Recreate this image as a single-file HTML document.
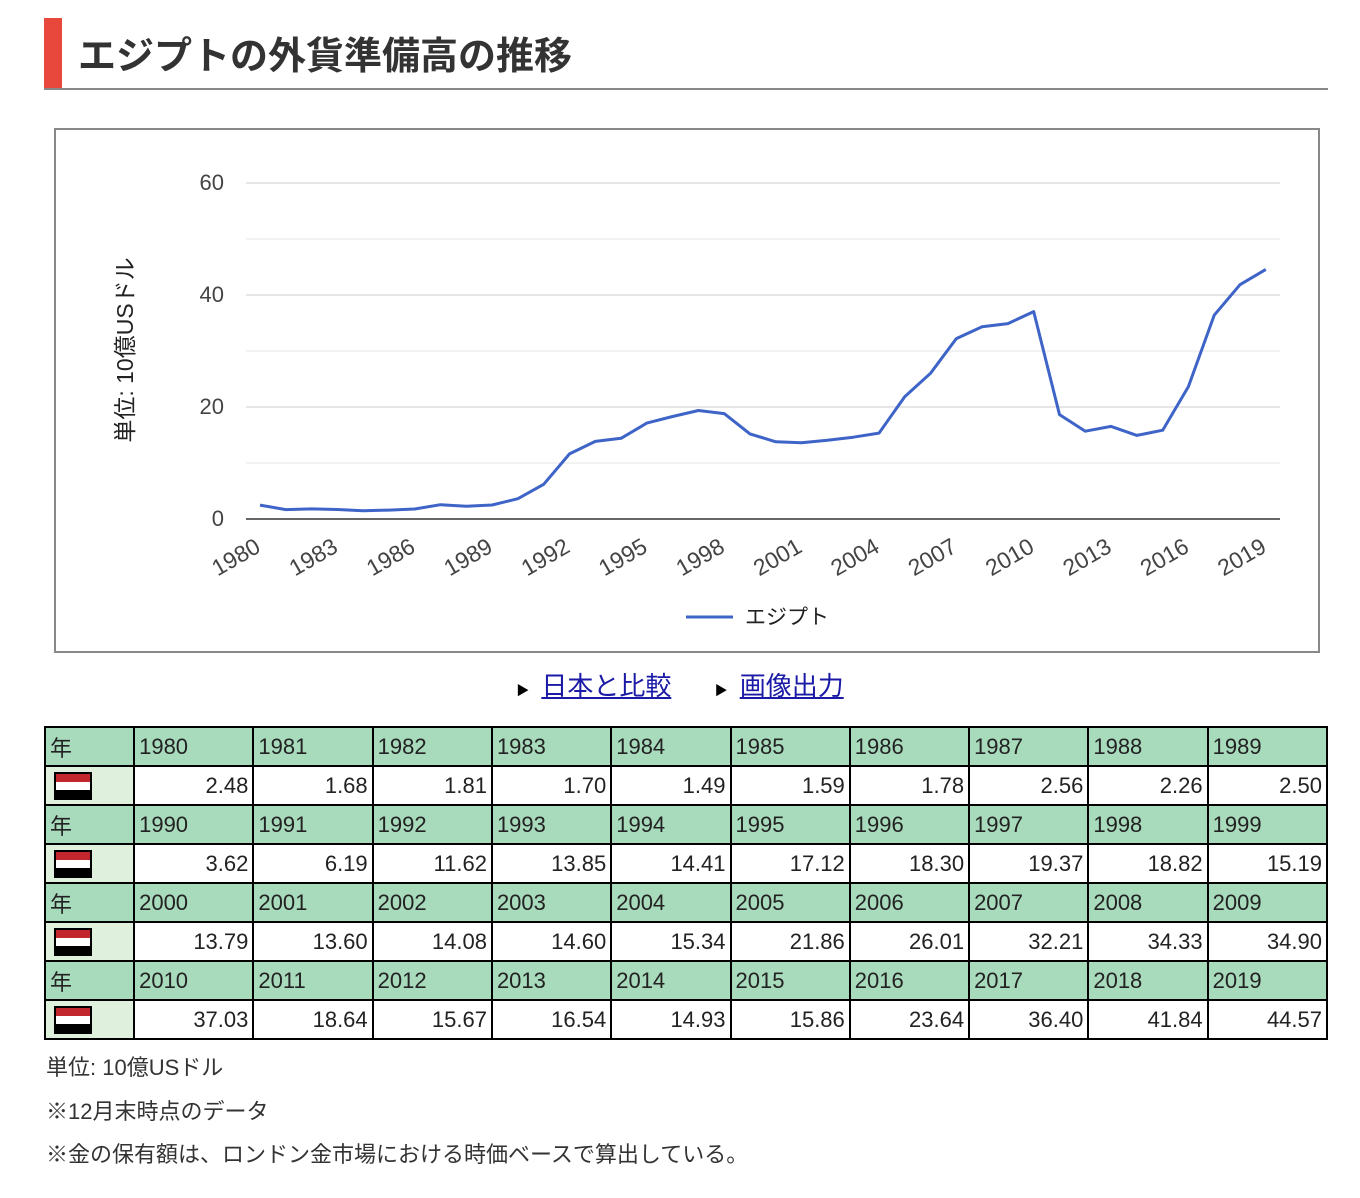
<!DOCTYPE html>
<html><head><meta charset="utf-8"><style>
body{margin:0;background:#fff;width:1360px;height:1198px;position:relative;font-family:"Liberation Sans","Noto Sans CJK JP",sans-serif;color:#222}
.t{position:absolute;left:44px;top:18px;width:1284px;height:70px;border-bottom:2px solid #888}
.t .bar{position:absolute;left:0;top:0;width:18px;height:70px;background:#e8473c}
.t h1{position:absolute;left:34px;top:4px;margin:0;font-size:38px;line-height:70px;font-weight:bold;color:#333}
.box{position:absolute;left:54px;top:128px;width:1262px;height:521px;border:2px solid #888;box-sizing:content-box}
.links{position:absolute;top:670px;left:0;width:1360px;text-align:center;font-size:26px}
.links a{color:#1a1aa6;text-decoration:underline}
.links span{font-size:13px;margin-right:12px;color:#000}
table{position:absolute;left:44px;top:726px;border-collapse:collapse;width:1284px;font-size:22px}
td{border:2px solid #000;padding:0 4px;height:37px;width:115px}
td:first-child{width:83px}
tr.h td{background:#a8dabc;height:37px;text-align:left}
tr.d td{text-align:right;height:37px}
tr.d td:first-child{background:#dff0dc;text-align:left}
.flag{display:inline-block;width:34px;height:24px;border:2px solid #000;vertical-align:middle;background:linear-gradient(#c1272d 0 33%,#fff 33% 66%,#000 66%);margin-left:4px}
.n{position:absolute;left:46px;font-size:22px;color:#333}
</style></head><body>
<div class="t"><div class="bar"></div><h1>エジプトの外貨準備高の推移</h1></div>
<div class="box"></div>
<svg style="position:absolute;left:0;top:0" width="1360" height="660" font-family="Liberation Sans,sans-serif">
<g stroke="#ccc" stroke-width="1">
<line x1="246" x2="1280" y1="183" y2="183"/><line x1="246" x2="1280" y1="239" y2="239" stroke="#e6e6e6"/>
<line x1="246" x2="1280" y1="295" y2="295"/><line x1="246" x2="1280" y1="351" y2="351" stroke="#e6e6e6"/>
<line x1="246" x2="1280" y1="407" y2="407"/><line x1="246" x2="1280" y1="463" y2="463" stroke="#e6e6e6"/>
</g>
<line x1="246" x2="1280" y1="519" y2="519" stroke="#333" stroke-width="1.5"/>
<g font-size="22" fill="#444" text-anchor="end">
<text x="224" y="190">60</text><text x="224" y="302">40</text><text x="224" y="414">20</text><text x="224" y="526">0</text>
</g>
<text transform="translate(133,350) rotate(-90)" text-anchor="middle" font-size="23" fill="#222" font-family="Liberation Sans,Noto Sans CJK JP,sans-serif">単位: 10億USドル</text>
<g id="xl" font-size="23" fill="#444" text-anchor="end"></g>
<polyline id="pl" fill="none" stroke="#3e64c8" stroke-width="3" stroke-linejoin="round"/>
<line x1="686" x2="733" y1="617" y2="617" stroke="#3e64c8" stroke-width="3"/>
<text x="745" y="624" font-size="21" fill="#222" font-family="Liberation Sans,Noto Sans CJK JP,sans-serif">エジプト</text>
</svg>
<div class="links" style="top:666px"><span>▶</span><a>日本と比較</a>&nbsp;&nbsp;&nbsp;&nbsp;&nbsp;&nbsp;<span>▶</span><a>画像出力</a></div>
<table>
<tr class="h"><td>年</td><td>1980</td><td>1981</td><td>1982</td><td>1983</td><td>1984</td><td>1985</td><td>1986</td><td>1987</td><td>1988</td><td>1989</td></tr>
<tr class="d"><td><span class="flag"></span></td><td>2.48</td><td>1.68</td><td>1.81</td><td>1.70</td><td>1.49</td><td>1.59</td><td>1.78</td><td>2.56</td><td>2.26</td><td>2.50</td></tr>
<tr class="h"><td>年</td><td>1990</td><td>1991</td><td>1992</td><td>1993</td><td>1994</td><td>1995</td><td>1996</td><td>1997</td><td>1998</td><td>1999</td></tr>
<tr class="d"><td><span class="flag"></span></td><td>3.62</td><td>6.19</td><td>11.62</td><td>13.85</td><td>14.41</td><td>17.12</td><td>18.30</td><td>19.37</td><td>18.82</td><td>15.19</td></tr>
<tr class="h"><td>年</td><td>2000</td><td>2001</td><td>2002</td><td>2003</td><td>2004</td><td>2005</td><td>2006</td><td>2007</td><td>2008</td><td>2009</td></tr>
<tr class="d"><td><span class="flag"></span></td><td>13.79</td><td>13.60</td><td>14.08</td><td>14.60</td><td>15.34</td><td>21.86</td><td>26.01</td><td>32.21</td><td>34.33</td><td>34.90</td></tr>
<tr class="h"><td>年</td><td>2010</td><td>2011</td><td>2012</td><td>2013</td><td>2014</td><td>2015</td><td>2016</td><td>2017</td><td>2018</td><td>2019</td></tr>
<tr class="d"><td><span class="flag"></span></td><td>37.03</td><td>18.64</td><td>15.67</td><td>16.54</td><td>14.93</td><td>15.86</td><td>23.64</td><td>36.40</td><td>41.84</td><td>44.57</td></tr>
</table>
<div class="n" style="top:1050px">単位: 10億USドル</div>
<div class="n" style="top:1094px">※12月末時点のデータ</div>
<div class="n" style="top:1137px">※金の保有額は、ロンドン金市場における時価ベースで算出している。</div>
<script>
var v=[2.48,1.68,1.81,1.70,1.49,1.59,1.78,2.56,2.26,2.50,3.62,6.19,11.62,13.85,14.41,17.12,18.30,19.37,18.82,15.19,13.79,13.60,14.08,14.60,15.34,21.86,26.01,32.21,34.33,34.90,37.03,18.64,15.67,16.54,14.93,15.86,23.64,36.40,41.84,44.57];
var p=v.map(function(a,i){return (260+i*25.79).toFixed(1)+","+(519-a*5.6).toFixed(1)}).join(" ");
document.getElementById("pl").setAttribute("points",p);
var g=document.getElementById("xl"),s="";
for(var i=0;i<40;i+=3){var x=260+i*25.79;s+='<text transform="translate('+(x+2)+',551) rotate(-30)">'+(1980+i)+'</text>';}
g.innerHTML=s;
</script>
</body></html>
